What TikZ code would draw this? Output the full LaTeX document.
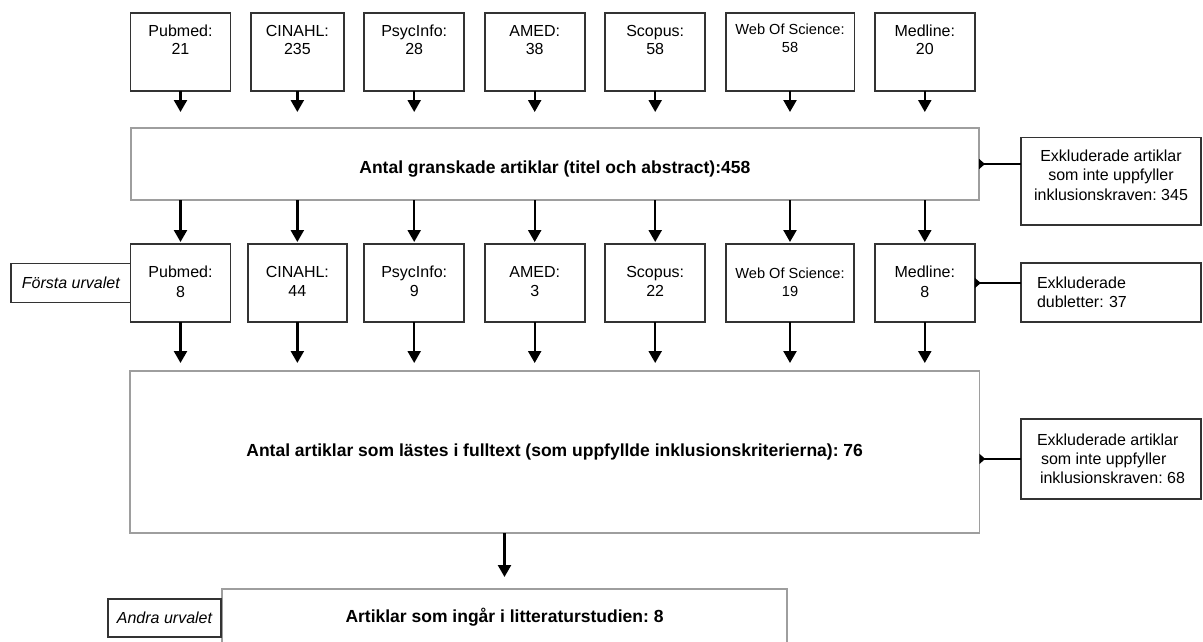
\documentclass[tikz,border=0pt]{standalone}
\usepackage{fontspec}
\setmainfont{Liberation Sans}
\frenchspacing
\usetikzlibrary{arrows.meta,positioning}

\begin{document}
\begin{tikzpicture}[x=1pt, y=-1pt,
    src/.style={draw=black!80, line width=1.6pt, minimum width=100pt,
      minimum height=78pt, inner sep=0pt, outer sep=0pt},
    srcname/.style={anchor=north, yshift=-12.5pt, align=center, inner sep=0pt,
      font=\fontsize{16}{18}\selectfont},
    hitname/.style={srcname, yshift=-9.4pt, font=\fontsize{16}{19.3}\selectfont},
    bigbox/.style={draw=black!38, line width=1.6pt, inner sep=0pt, outer sep=0pt,
      font=\bfseries\fontsize{17.5}{21}\selectfont},
    bigname/.style={anchor=center, yshift=-5pt, inner sep=0pt,
      font=\bfseries\fontsize{17.5}{21}\selectfont},
    excl/.style={draw=black!80, line width=1.6pt, minimum width=180pt,
      inner sep=0pt, outer sep=0pt, font=\fontsize{16}{19.3}\selectfont},
    exname/.style={srcname, yshift=0.6pt, font=\fontsize{16}{19.5}\selectfont},
    note/.style={draw=black!80, line width=1.6pt, inner sep=0pt, outer sep=0pt,
      font=\itshape\fontsize{16}{18}\selectfont},
    arrow/.style={-{Triangle[length=12pt,width=13pt]}, line width=2.3pt},
    side/.style={{Triangle[reversed,length=6pt,width=10pt]}-, line width=2.6pt}
  ]
    \useasboundingbox (0,0) rectangle (1203,641);
    % databases, first search
    \node[src, label={[srcname]north:{Pubmed:\\21}}] (pub1) at (180.5,51.7) {};
    \node[src, minimum width=92.7pt, label={[srcname]north:{CINAHL:\\235}},
      right=20.5pt of pub1] (cin1) {};
    \node[src, label={[srcname]north:{PsycInfo:\\28}}, right=20.5pt of cin1] (psy1) {};
    \node[src, label={[srcname]north:{AMED:\\38}}, right=20.5pt of psy1] (amed1) {};
    \node[src, label={[srcname]north:{Scopus:\\58}}, right=20.5pt of amed1] (sco1) {};
    \node[src, minimum width=128.6pt, label={[srcname, yshift=1.5pt,
      font=\fontsize{14.6}{18}\selectfont]north:{Web Of Science:\\58}},
      right=20.5pt of sco1] (wos1) {};
    \node[src, label={[srcname]north:{Medline:\\20}}, right=20.5pt of wos1] (med1) {};

    \node[bigbox, minimum width=848.3pt, minimum height=72pt,
      label={[bigname]center:{Antal granskade artiklar (titel och abstract):458}}]
      (scr) at (554.85,164) {};

    % databases, first selection
    \node[src, label={[hitname]north:{Pubmed:\\8}}, below=153.3pt of pub1] (pub2) {};
    \node[src, minimum width=99.3pt, label={[hitname]north:{CINAHL:\\44}},
      below=153.3pt of cin1] (cin2) {};
    \node[src, label={[hitname]north:{PsycInfo:\\9}}, below=153.3pt of psy1] (psy2) {};
    \node[src, label={[hitname]north:{AMED:\\3}}, below=153.3pt of amed1] (amed2) {};
    \node[src, label={[hitname]north:{Scopus:\\22}}, below=153.3pt of sco1] (sco2) {};
    \node[src, minimum width=127.6pt, label={[hitname, yshift=-2pt,
      font=\fontsize{14.6}{18}\selectfont]north:{Web Of Science:\\19}},
      below=153.3pt of wos1] (wos2) {};
    \node[src, label={[hitname]north:{Medline:\\8}}, below=153.3pt of med1] (med2) {};
    \node[note, minimum width=119.3pt, minimum height=39pt, left=0pt of pub2]
      (first) {Första urvalet};

    \node[bigbox, minimum width=849.3pt, minimum height=162pt] (full) at (554.65,452)
      {Antal artiklar som lästes i fulltext (som uppfyllde inklusionskriterierna): 76};
    \node[bigbox, minimum width=565pt, minimum height=57pt] (incl) at (504.5,617.5)
      {Artiklar som ingår i litteraturstudien: 8};
    \node[note, minimum width=113pt, minimum height=38pt] (second) at (164.5,618)
      {Andra urvalet};

    % excluded
    \node[excl, minimum height=87.7pt, label={[exname]north:{Exkluderade
      artiklar\\som inte uppfyller\\inklusionskraven: 345}}] (exscr) at (1111,181.2) {};
    \node[excl, align=left, text width=148pt, minimum height=58.7pt] (exdup)
      at (1111,292.6) {Exkluderade\\dubletter: 37};
    \node[excl, align=left, minimum height=80.3pt] (exfull) at (1111,458.9)
      {Exkluderade artiklar\\\hspace*{4pt}som inte uppfyller\\\hspace*{3pt}inklusionskraven: 68};

    \foreach \s in {pub,cin,psy,amed,sco,wos,med} {
      \draw[arrow, shorten >=16pt] (\s1.south) -- (\s1.south |- scr.north);
      \draw[arrow, shorten >=2pt] (\s2.north |- scr.south) -- (\s2.north);
      \draw[arrow, shorten >=8pt] (\s2.south) -- (\s2.south |- full.north);
    }
    \draw[arrow, shorten >=12pt] (incl.north |- full.south) -- (incl.north);

    \draw[side] (scr.east) -- (scr.east -| exscr.west);
    \draw[side] (med2.east) -- (med2.east -| exdup.west);
    \draw[side] (exfull.west -| full.east) -- (exfull.west);
  \end{tikzpicture}
\end{document}
